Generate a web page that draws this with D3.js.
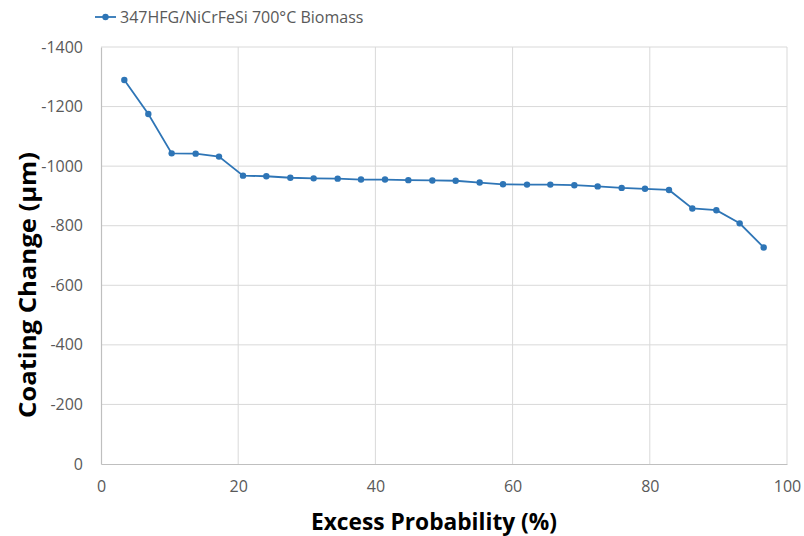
<!DOCTYPE html>
<html>
<head>
<meta charset="utf-8">
<script src="https://cdn.jsdelivr.net/npm/d3@7"></script>
<style>
  body { margin: 0; background: #fff; }
</style>
</head>
<body>
<div id="chart"></div>
<script>
// excess probability (%) and coating change (µm)
const probability = [3.4, 6.9, 10.3, 13.8, 17.2, 20.7, 24.1, 27.6, 31.0, 34.5, 37.9, 41.4, 44.8, 48.3,
  51.7, 55.2, 58.6, 62.1, 65.5, 69.0, 72.4, 75.9, 79.3, 82.8, 86.2, 89.7, 93.1, 96.6];
const coatingChange = [-1289, -1175, -1043, -1042, -1032, -968, -966, -961, -959, -958, -955, -955, -953, -952,
  -951, -945, -939, -938, -938, -936, -932, -927, -924, -920, -858, -852, -808, -727];
const xTicks = [0, 20, 40, 60, 80, 100];
const yTicks = [0, -200, -400, -600, -800, -1000, -1200, -1400];
const seriesName = "347HFG/NiCrFeSi 700°C Biomass";

const width = 804, height = 536;
const margin = { top: 47, right: 17, bottom: 72, left: 101 };
const blue = "#2e75b6";
const labelFont = "'Open Sans', sans-serif";

const svg = d3.select("#chart").append("svg")
  .attr("width", width)
  .attr("height", height);

const x = d3.scaleLinear().domain([0, 100]).range([margin.left, width - margin.right]);
const y = d3.scaleLinear().domain([0, -1400]).range([height - margin.bottom, margin.top]);

// grid
svg.append("g")
  .selectAll("line.h")
  .data(yTicks.filter(d => d !== 0))
  .join("line")
  .attr("x1", x(0)).attr("x2", x(100))
  .attr("y1", d => y(d)).attr("y2", d => y(d))
  .attr("stroke", "#d9d9d9").attr("stroke-width", 1);

svg.append("g")
  .selectAll("line.v")
  .data(xTicks.filter(d => d !== 0))
  .join("line")
  .attr("x1", d => x(d)).attr("x2", d => x(d))
  .attr("y1", y(0)).attr("y2", y(-1400))
  .attr("stroke", "#d9d9d9").attr("stroke-width", 1);

// axes
const xAxis = svg.append("g")
  .attr("transform", `translate(0,${y(0)})`)
  .call(d3.axisBottom(x).tickValues(xTicks).tickSize(0).tickPadding(17));
const yAxis = svg.append("g")
  .attr("transform", `translate(${x(0)},0)`)
  .call(d3.axisLeft(y).tickValues(yTicks).tickSize(0).tickPadding(18).tickFormat(d3.format("d")));

[xAxis, yAxis].forEach(g => {
  g.select(".domain").attr("stroke", "#bfbfbf").attr("stroke-width", 1.2);
  g.selectAll("text")
    .attr("fill", "#595959")
    .style("font-family", labelFont)
    .style("font-size", "16px");
});
yAxis.selectAll("text").text(d => d === 0 ? "0" : "-" + Math.abs(d));

// axis titles
svg.append("text")
  .attr("x", 434).attr("y", 530)
  .attr("text-anchor", "middle")
  .attr("textLength", 246).attr("lengthAdjust", "spacingAndGlyphs")
  .style("font-family", labelFont)
  .style("font-weight", "bold")
  .style("font-size", "23px")
  .text("Excess Probability (%)");

svg.append("text")
  .attr("transform", "translate(36,285) rotate(-90)")
  .attr("text-anchor", "middle")
  .attr("textLength", 266).attr("lengthAdjust", "spacingAndGlyphs")
  .style("font-family", labelFont)
  .style("font-weight", "bold")
  .style("font-size", "24px")
  .text("Coating Change (µm)");

// series
const points = probability.map((p, i) => ({ p, v: coatingChange[i] }));
svg.append("path")
  .datum(points)
  .attr("fill", "none")
  .attr("stroke", blue)
  .attr("stroke-width", 1.8)
  .attr("d", d3.line().x(d => x(d.p)).y(d => y(d.v)));

svg.append("g")
  .selectAll("circle")
  .data(points)
  .join("circle")
  .attr("cx", d => x(d.p))
  .attr("cy", d => y(d.v))
  .attr("r", 3.2)
  .attr("fill", blue);

// legend
const legend = svg.append("g").attr("transform", "translate(95,17)");
legend.append("line").attr("x1", 0).attr("x2", 21).attr("stroke", blue).attr("stroke-width", 1.8);
legend.append("circle").attr("cx", 10.5).attr("r", 3.2).attr("fill", blue);
legend.append("text")
  .attr("x", 25).attr("y", 5.5)
  .attr("fill", "#595959")
  .style("font-family", labelFont)
  .style("font-size", "16px")
  .text(seriesName);
</script>
</body>
</html>
